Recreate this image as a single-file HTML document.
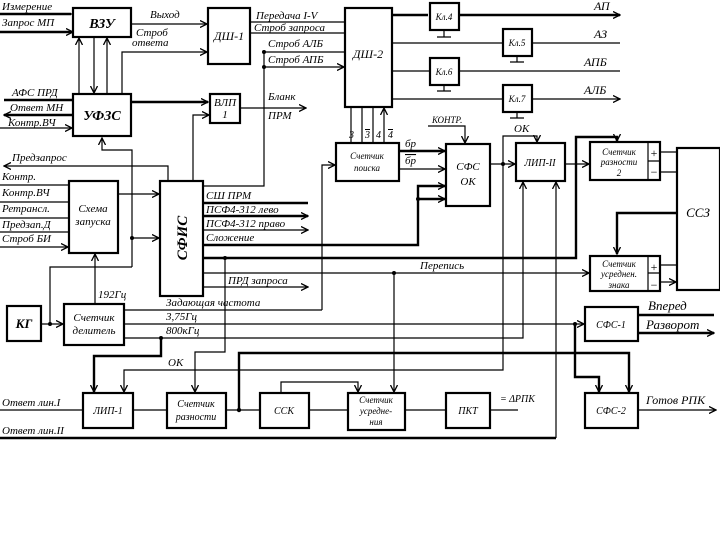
<!DOCTYPE html>
<html><head><meta charset="utf-8"><style>
html,body{margin:0;padding:0;background:#fff;}
svg{display:block;}
text{font-family:"Liberation Serif","DejaVu Serif",serif;font-style:italic;font-size:11px;fill:#000;}
.b{fill:#fff;stroke:#000;stroke-width:2.2;}
.l{fill:none;stroke:#000;stroke-width:1.2;}
.t{fill:none;stroke:#000;stroke-width:2.4;}
.c{text-anchor:middle;}
</style></head><body>
<svg width="720" height="540" viewBox="0 0 720 540" xmlns="http://www.w3.org/2000/svg">
<defs><marker id="a" markerWidth="8" markerHeight="8" refX="7" refY="4" orient="auto" markerUnits="userSpaceOnUse"><path d="M0,0.5 L7,4 L0,7.5" fill="none" stroke="#000" stroke-width="1.3"/></marker></defs>
<g>
<!-- boxes -->
<rect class="b" x="73" y="8" width="58" height="29"/><text x="102" y="28" class="c" style="font-size:14px;font-weight:bold">ВЗУ</text>
<rect class="b" x="208" y="8" width="42" height="56"/><text x="229" y="40" class="c" style="font-size:12px">ДШ-1</text>
<rect class="b" x="345" y="8" width="47" height="99"/><text x="368" y="58" class="c" style="font-size:12px">ДШ-2</text>
<rect class="b" x="73" y="94" width="58" height="42"/><text x="102" y="120" class="c" style="font-size:14px;font-weight:bold">УФЗС</text>
<rect class="b" x="210" y="94" width="30" height="29"/><text x="225" y="106" class="c">ВЛП</text><text x="225" y="118" class="c">1</text>
<rect class="b" x="430" y="3" width="29" height="27"/><text x="444" y="20" class="c" style="font-size:9px">Кл.4</text>
<rect class="b" x="503" y="29" width="29" height="27"/><text x="517" y="46" class="c" style="font-size:9px">Кл.5</text>
<rect class="b" x="430" y="58" width="29" height="27"/><text x="444" y="75" class="c" style="font-size:9px">Кл.6</text>
<rect class="b" x="503" y="85" width="29" height="27"/><text x="517" y="102" class="c" style="font-size:9px">Кл.7</text>
<path class="l" d="M444,30V37M437,37H451M517,56V62M510,62H524M444,85V91M437,91H451M517,112V118M510,118H524"/>
<rect class="b" x="69" y="181" width="49" height="72"/><text x="93" y="212" class="c">Схема</text><text x="93" y="225" class="c">запуска</text>
<rect class="b" x="160" y="181" width="43" height="115"/><text transform="translate(187,238) rotate(-90)" class="c" style="font-size:15px;font-weight:bold">СФИС</text>
<rect class="b" x="7" y="306" width="34" height="35"/><text x="24" y="328" class="c" style="font-size:13px;font-weight:bold">КГ</text>
<rect class="b" x="64" y="304" width="60" height="41"/><text x="94" y="321" class="c">Счетчик</text><text x="94" y="334" class="c">делитель</text>
<rect class="b" x="336" y="143" width="63" height="38"/><text x="367" y="159" class="c" style="font-size:9px">Счетчик</text><text x="367" y="171" class="c" style="font-size:9px">поиска</text>
<rect class="b" x="446" y="144" width="44" height="62"/><text x="468" y="170" class="c">СФС</text><text x="468" y="185" class="c">ОК</text>
<rect class="b" x="516" y="143" width="49" height="38"/><text x="540" y="166" class="c" style="font-size:10px">ЛИП-II</text>
<rect class="b" x="590" y="142" width="70" height="38"/><path class="l" d="M648,142V180M648,161H660"/><text x="619" y="155" class="c" style="font-size:9px">Счетчик</text><text x="619" y="165" class="c" style="font-size:9px">разности</text><text x="619" y="176" class="c" style="font-size:9px">2</text><text x="654" y="157" class="c" style="font-style:normal;font-size:12px">+</text><text x="654" y="176" class="c" style="font-style:normal;font-size:12px">−</text>
<rect class="b" x="677" y="148" width="43" height="142"/><text x="698" y="217" class="c" style="font-size:13px">ССЗ</text>
<rect class="b" x="590" y="256" width="70" height="35"/><path class="l" d="M648,256V291M648,273H660"/><text x="619" y="267" class="c" style="font-size:9px">Счетчик</text><text x="619" y="277" class="c" style="font-size:9px">усреднен.</text><text x="619" y="288" class="c" style="font-size:9px">знака</text><text x="654" y="271" class="c" style="font-style:normal;font-size:12px">+</text><text x="654" y="289" class="c" style="font-style:normal;font-size:12px">−</text>
<rect class="b" x="585" y="307" width="53" height="34"/><text x="611" y="328" class="c" style="font-size:10px">СФС-1</text>
<rect class="b" x="585" y="393" width="53" height="35"/><text x="611" y="414" class="c" style="font-size:10px">СФС-2</text>
<rect class="b" x="83" y="393" width="50" height="35"/><text x="108" y="414" class="c" style="font-size:10px">ЛИП-1</text>
<rect class="b" x="167" y="393" width="59" height="35"/><text x="196" y="407" class="c" style="font-size:10px">Счетчик</text><text x="196" y="420" class="c" style="font-size:10px">разности</text>
<rect class="b" x="260" y="393" width="49" height="35"/><text x="284" y="414" class="c" style="font-size:10px">ССК</text>
<rect class="b" x="348" y="393" width="57" height="37"/><text x="376" y="403" class="c" style="font-size:9px">Счетчик</text><text x="376" y="414" class="c" style="font-size:9px">усредне-</text><text x="376" y="425" class="c" style="font-size:9px">ния</text>
<rect class="b" x="446" y="393" width="44" height="35"/><text x="468" y="414" class="c" style="font-size:10px">ПКТ</text>
</g>
<g>
<!-- top left -->
<path class="l" d="M0,14H73M0,32H73" marker-end="url(#a)"/>
<path class="t" d="M0,14H71M0,32H71"/>
<text x="2" y="10">Измерение</text><text x="2" y="26">Запрос МП</text>
<path class="l" d="M79,94V38" marker-end="url(#a)"/><path class="l" d="M94,37V93" marker-end="url(#a)"/><path class="l" d="M107,94V38" marker-end="url(#a)"/>
<path class="l" d="M131,24H207" marker-end="url(#a)"/><text x="150" y="18">Выход</text>
<path class="l" d="M122,94V52H207" marker-end="url(#a)"/><text x="136" y="36">Строб</text><text x="132" y="46">ответа</text>
<path class="l" d="M250,22H344M250,33H344M264,52H344M264,67H344" marker-end="url(#a)"/>
<text x="256" y="19">Передача I-V</text><text x="254" y="31">Строб запроса</text><text x="268" y="47">Строб АЛБ</text><text x="268" y="63">Строб АПБ</text>
<circle cx="264" cy="52" r="2"/><circle cx="264" cy="67" r="2"/>
<path class="l" d="M264,52V186H203"/>
<path class="t" d="M73,100H4M73,115H4" marker-end="url(#a)"/><path class="l" d="M0,128H72" marker-end="url(#a)"/>
<text x="12" y="96">АФС ПРД</text><text x="10" y="111">Ответ МН</text><text x="8" y="126">Контр.ВЧ</text>
<path class="t" d="M131,102H208" marker-end="url(#a)"/>
<path class="l" d="M193,181V115H209" marker-end="url(#a)"/>
<path class="l" d="M240,108H306" marker-end="url(#a)"/><text x="268" y="100">Бланк</text><text x="268" y="119">ПРМ</text>
<path class="l" d="M132,267V150H102V138" marker-end="url(#a)"/>
<!-- right outputs -->
<path class="t" d="M392,15H428M459,15H620" marker-end="url(#a)"/>
<path class="l" d="M392,43H502M532,43H620M392,71H429M459,71H620M392,99H502M532,99H620" marker-end="url(#a)"/>
<text x="594" y="10" style="font-size:12px">АП</text><text x="594" y="38" style="font-size:12px">АЗ</text><text x="584" y="66" style="font-size:12px">АПБ</text><text x="584" y="94" style="font-size:12px">АЛБ</text>
<!-- count search -->
<path class="l" d="M351,142V108M362,142V108M373,142V108M384,142V108" marker-end="url(#a)"/>
<text x="349" y="138" style="font-size:10px">3</text><text x="365" y="138" style="font-size:10px;text-decoration:overline">3</text><text x="376" y="138" style="font-size:10px">4</text><text x="388" y="138" style="font-size:10px;text-decoration:overline">4</text>
<path class="t" d="M399,151H445" marker-end="url(#a)"/><path class="l" d="M399,169H445" marker-end="url(#a)"/>
<text x="405" y="147">бр</text><text x="405" y="164" style="text-decoration:overline">бр</text>
<path class="l" d="M428,126H465V143" marker-end="url(#a)"/><text x="432" y="123" style="font-size:9px">КОНТР.</text>
<path class="l" d="M322,310V165H335" marker-end="url(#a)"/>
<path class="l" d="M490,164H515" marker-end="url(#a)"/><circle cx="503" cy="164" r="2"/>
<path class="l" d="M503,164V136H537V142" marker-end="url(#a)"/><text x="514" y="132">ОК</text>
<path class="l" d="M565,164H589" marker-end="url(#a)"/>
<path class="l" d="M660,152H676M660,172H676M660,265H676M660,282H676" marker-end="url(#a)"/>
<path class="t" d="M677,213H617V254" marker-end="url(#a)"/>
<!-- SFIS outputs -->
<path class="t" d="M203,203H308M203,216H308" marker-end="url(#a)"/><path class="l" d="M203,230H308" marker-end="url(#a)"/>
<text x="206" y="199">СШ ПРМ</text><text x="206" y="213">ПСФ4-312 лево</text><text x="206" y="227">ПСФ4-312 право</text><text x="206" y="241">Сложение</text>
<path class="t" d="M203,245H418V186H445"/><path class="t" d="M418,199H445" marker-end="url(#a)"/><path class="l" d="M440,186H445" marker-end="url(#a)"/><circle cx="418" cy="199" r="2"/>
<path class="t" d="M203,258H576V137H617V141" marker-end="url(#a)"/><circle cx="225" cy="258" r="2"/>
<path class="l" d="M203,273H589" marker-end="url(#a)"/><text x="420" y="269">Перепись</text><circle cx="394" cy="273" r="2"/>
<path class="l" d="M394,273V392" marker-end="url(#a)"/>
<path class="l" d="M203,287H308" marker-end="url(#a)"/><text x="228" y="284">ПРД запроса</text>
<!-- left side -->
<path class="l" d="M168,181V166H4" marker-end="url(#a)"/><text x="12" y="161">Предзапрос</text>
<path class="l" d="M0,185H68M0,202H68M0,218H68M0,232H68M0,247H68" marker-end="url(#a)"/>
<text x="2" y="180">Контр.</text><text x="2" y="196">Контр.ВЧ</text><text x="2" y="212">Ретрансл.</text><text x="2" y="228">Предзап.Д</text><text x="2" y="242">Строб БИ</text>
<path class="l" d="M118,194H159" marker-end="url(#a)"/>
<path class="l" d="M132,238H159" marker-end="url(#a)"/><circle cx="132" cy="238" r="2"/>
<path class="l" d="M132,267H50V324"/>
<path class="l" d="M41,324H63" marker-end="url(#a)"/><circle cx="50" cy="324" r="2"/>
<path class="l" d="M95,304V254" marker-end="url(#a)"/><text x="98" y="298">192Гц</text>
<path class="l" d="M124,310H322"/><text x="166" y="306">Задающая частота</text>
<path class="l" d="M124,324H584" marker-end="url(#a)"/><text x="166" y="320">3,75Гц</text><circle cx="575" cy="324" r="2"/>
<path class="l" d="M124,338H523V182" marker-end="url(#a)"/><text x="166" y="334">800кГц</text><circle cx="161" cy="338" r="2"/>
<path class="l" d="M556,438V182" marker-end="url(#a)"/>
<path class="t" d="M0,438H556"/>
<path class="t" d="M161,338V356H94V392" marker-end="url(#a)"/>
<path class="l" d="M503,164V370H124V392" marker-end="url(#a)"/><text x="168" y="366">ОК</text>
<path class="l" d="M225,258V352H195V392" marker-end="url(#a)"/>
<path class="t" d="M239,410V353H629V392" marker-end="url(#a)"/><circle cx="239" cy="410" r="2.2"/>
<path class="t" d="M575,324V377H599V392" marker-end="url(#a)"/>
<path class="l" d="M0,410H82M133,410H166M226,410H259M309,410H347M405,410H445M490,410H518M638,410H716" marker-end="url(#a)"/>
<path class="l" d="M281,393V382H358V392" marker-end="url(#a)"/>
<text x="2" y="406">Ответ лин.I</text><text x="2" y="434">Ответ лин.II</text>
<text x="500" y="402" style="font-size:10px">= ΔРПК</text><text x="646" y="404" style="font-size:12px">Готов РПК</text>
<path class="t" d="M638,315H714M638,333H714" marker-end="url(#a)"/>
<text x="648" y="310" style="font-size:13px">Вперед</text><text x="646" y="329" style="font-size:13px">Разворот</text>
</g>
</svg>
</body></html>
